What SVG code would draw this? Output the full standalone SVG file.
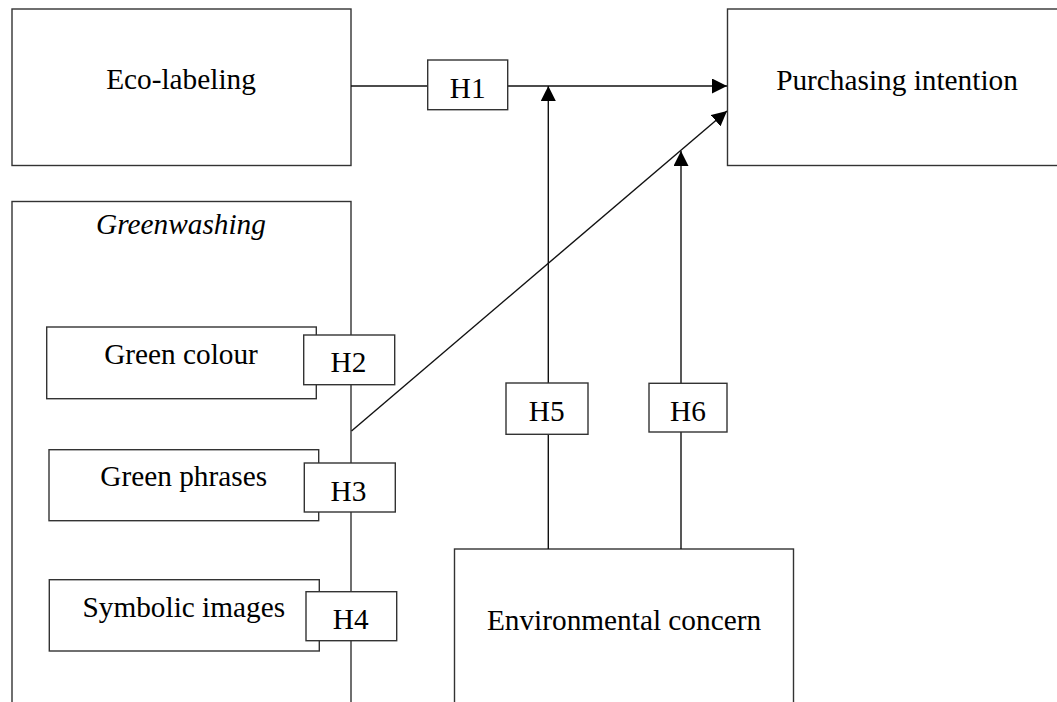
<svg xmlns="http://www.w3.org/2000/svg" width="1057" height="702" viewBox="0 0 1057 702">
<style>
.box{fill:#fff;stroke:#333;stroke-width:1.4}
.hb{fill:#fff;stroke:#333;stroke-width:1.4}
.t{font-family:"Liberation Serif","Times New Roman",serif;font-size:29.3px;fill:#000;text-anchor:middle}
.it{font-style:italic}
.c{fill:none;stroke:#111;stroke-width:1.4}
</style>
<defs>
<marker id="ah" viewBox="0 0 15 15" refX="15" refY="7.5" markerWidth="15" markerHeight="15" markerUnits="userSpaceOnUse" orient="auto">
<path d="M0,0 L15,7.5 L0,15 Z" fill="#000"/>
</marker>
</defs>
<rect width="1057" height="702" fill="#fff"/>
<g id="n-eco"><rect class="box" x="12" y="9" width="339" height="156.5"/><text class="t" x="181" y="88.5">Eco-labeling</text></g>
<g id="n-purch"><rect class="box" x="727.5" y="9" width="340" height="156.5"/><text class="t" x="897" y="90">Purchasing intention</text></g>
<g id="n-green"><rect class="box" x="12" y="201.5" width="339" height="520"/><text class="t it" x="181" y="234">Greenwashing</text></g>
<g id="n-env"><rect class="box" x="454.5" y="549" width="339" height="180"/><text class="t" x="624" y="629.5">Environmental concern</text></g>
<g id="connectors">
<line class="c" x1="351" y1="86" x2="727" y2="86" marker-end="url(#ah)"/>
<line class="c" x1="548.3" y1="549" x2="548.3" y2="86" marker-end="url(#ah)"/>
<line class="c" x1="351.5" y1="431" x2="727" y2="111" marker-end="url(#ah)"/>
<line class="c" x1="681" y1="549" x2="681" y2="151" marker-end="url(#ah)"/>
</g>
<g id="n-colour"><rect class="box" x="46.7" y="327" width="269.6" height="71.7"/><text class="t" x="181" y="363.5">Green colour</text></g>
<g id="n-phrases"><rect class="box" x="49" y="449.7" width="269.7" height="71"/><text class="t" x="183.7" y="486">Green phrases</text></g>
<g id="n-symbolic"><rect class="box" x="49.3" y="579.7" width="270" height="71.3"/><text class="t" x="183.8" y="617">Symbolic images</text></g>
<g id="h1"><rect class="hb" x="427.7" y="60" width="80" height="49.7"/><text class="t" x="467.7" y="97.5">H1</text></g>
<g id="h2"><rect class="hb" x="303.7" y="335" width="91" height="49.7"/><text class="t" x="348.5" y="372">H2</text></g>
<g id="h3"><rect class="hb" x="304.3" y="463" width="91" height="49"/><text class="t" x="348.5" y="500.5">H3</text></g>
<g id="h4"><rect class="hb" x="306" y="591.7" width="90.7" height="49"/><text class="t" x="350.7" y="628.5">H4</text></g>
<g id="h5"><rect class="hb" x="506" y="383" width="82" height="51.3"/><text class="t" x="546.7" y="420.5">H5</text></g>
<g id="h6"><rect class="hb" x="649" y="383.3" width="78" height="48.7"/><text class="t" x="688" y="420.5">H6</text></g>
</svg>
